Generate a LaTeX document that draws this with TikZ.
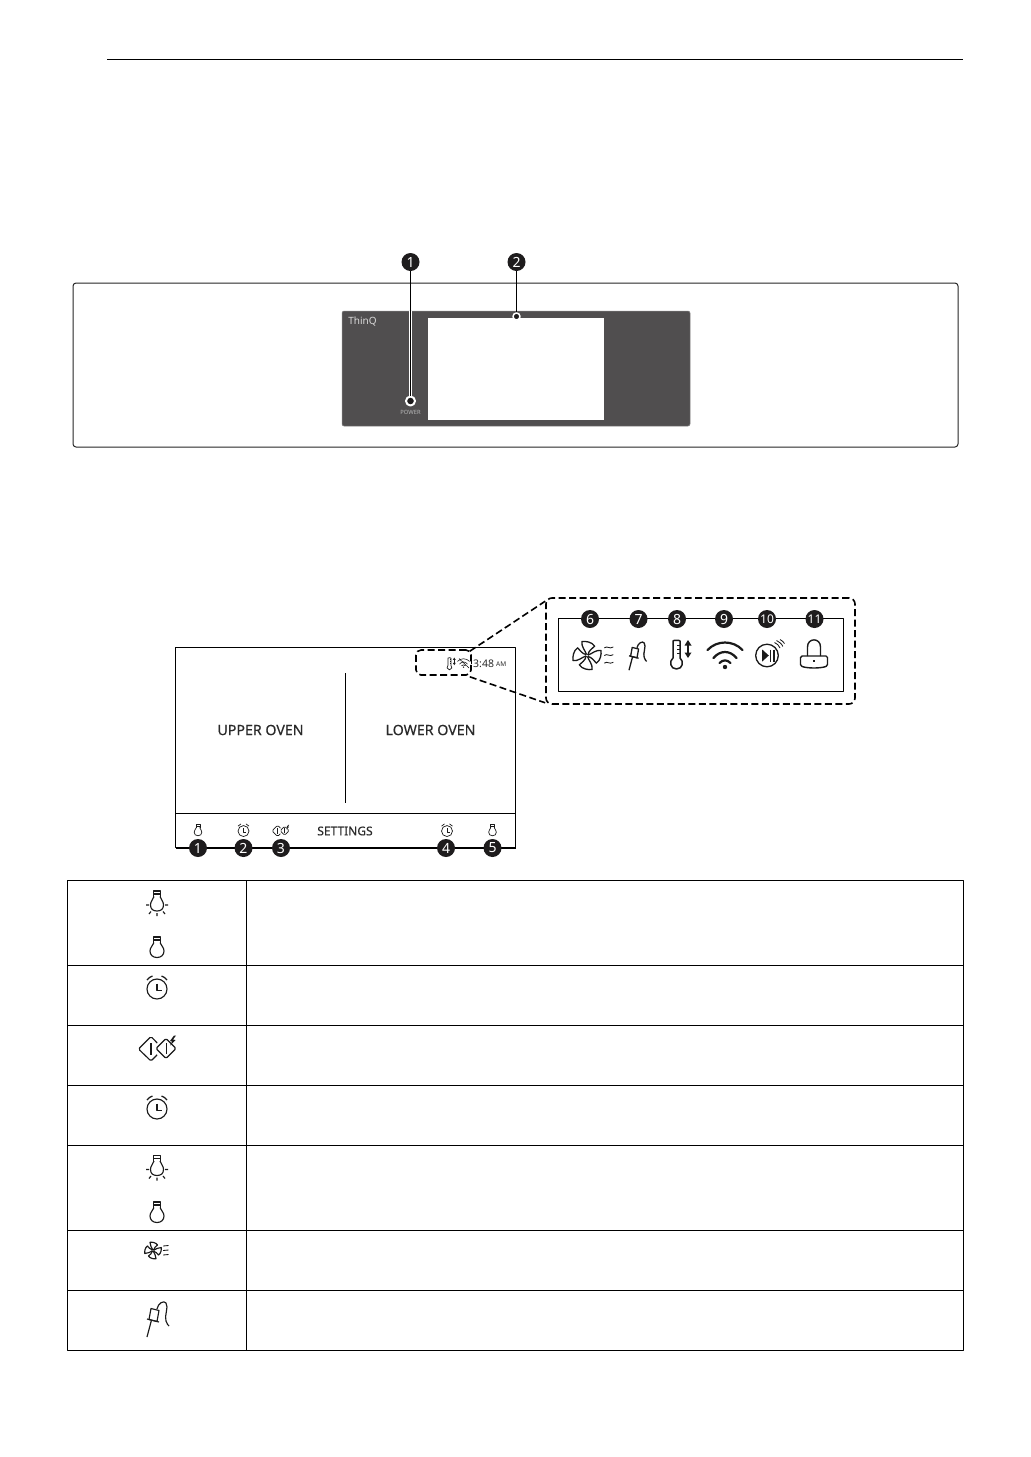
\documentclass[tikz,border=0pt]{standalone}
\usepackage{fontspec}
\setmainfont{Noto Sans}
\newfontfamily\labelfont[FakeBold=0.4]{Noto Sans}
\begin{document}
\begin{tikzpicture}[x=1pt,y=-1pt,line join=round,
  badge/.style={circle,fill=badgeblack,text=white,inner sep=0pt,minimum size=18pt,font=\fontsize{14}{14}\selectfont\bfseries},
  badgesm/.style={badge,font=\fontsize{12}{12}\selectfont\bfseries},
  label/.style={inner sep=0pt,text=textgray,font=\labelfont\fontsize{14.2}{15}\selectfont},
  dashbox/.style={draw=black,line width=1.6pt,dash pattern=on 7pt off 3.5pt},
  icon/.style={draw=iconblack,line width=1.15pt},
  wifiline/.style={line width=2.2pt},
  thermoline/.style={line width=1.5pt},
  bulb/.pic={
    \draw[icon] (-3.5,-4) -- (-3.5,-10) -- (3.5,-10) -- (3.5,-4);
    \draw[icon] (-3.5,-7) -- (3.5,-7);
    \draw[icon] (-3,-4.5) .. controls (-4,-1) and (-7,0) .. (-7,4) .. controls (-7,8) and (-4,10.5) .. (0,10.5) .. controls (4,10.5) and (7,8) .. (7,4) .. controls (7,0) and (4,-1) .. (3,-4.5);
  },
  bulblit/.pic={
    \draw[icon] (-3.5,-7) -- (-3.5,-13) -- (3.5,-13) -- (3.5,-7);
    \draw[icon] (-3.5,-10) -- (3.5,-10);
    \draw[icon] (-3,-7.5) .. controls (-4,-4) and (-6.5,-3) .. (-6.5,1) .. controls (-6.5,5) and (-4,7) .. (0,7) .. controls (4,7) and (6.5,5) .. (6.5,1) .. controls (6.5,-3) and (4,-4) .. (3,-7.5);
    \draw[icon] (-11,1) -- (-8,1) (8,1) -- (11,1) (0,9) -- (0,12) (-6,7.5) -- (-8,10) (6,7.5) -- (8,10);
  },
  clockicon/.pic={
    \draw[icon] (0,1) circle[radius=10pt];
    \draw[icon] (0,-4.5) -- (0,2.5) -- (5,2.5);
    \draw[icon] (-10,-8) .. controls (-8.5,-10) and (-6.5,-11.5) .. (-4.5,-12);
    \draw[icon] (10,-8) .. controls (8.5,-10) and (6.5,-11.5) .. (4.5,-12);
  },
  diamonds/.pic={
    \draw[icon,rounded corners=1.5pt] (-18.5,1) -- (-6,-11.5) -- (6,1) -- (-6,13) -- cycle;
    \draw[fill=white,draw=white] (3,-9) -- (-3,1) -- (3,11) -- (11,11) -- (14,-9) -- cycle;
    \draw[icon,rounded corners=1.5pt] (-1,0.5) -- (9,-9.5) -- (19,0.5) -- (9,10.5) -- cycle;
    \draw[icon,thermoline] (-6,-5) -- (-6,7);
    \draw[icon,line width=.7pt] (9,-5) -- (9,6);
    \fill[iconblack] (17,-12.5) -- (13,-7) -- (15,-6.5) -- (13,-2.5) -- (18.5,-8) -- (16,-8.5) -- (19,-12.5) -- cycle;
  },
  fanicon/.pic={
    \foreach \a in {0,90,180,270}{
      \draw[icon,rotate=\a] (-.3,-.6) .. controls (-1,-3) and (-3.4,-5) .. (-3,-8.2) .. controls (-1,-8.6) and (3,-8) .. (4.5,-5.5) .. controls (3,-4) and (1,-3) .. (.5,-.3);
    }
    \draw[icon,line width=.85pt] (10.2,-4.5) .. controls (12,-6) and (13,-3.5) .. (15.5,-5);
    \draw[icon,line width=.85pt] (10.2,0) .. controls (12,-1.5) and (13,1) .. (15.5,-.5);
    \draw[icon,line width=.85pt] (10.2,4.5) .. controls (12,3) and (13,5.5) .. (15.5,4);
  },
  probe/.pic={
    \draw[icon] (-10,19) -- (-5.5,2);
    \draw[icon] (-6,-9.5) -- (2,-7.5) -- (0,3.5) -- (-8,1.5) -- cycle;
    \draw[icon] (-10,1) -- (2,4);
    \draw[icon] (0,-9) .. controls (1,-15) and (7,-18) .. (9,-15) .. controls (12,-11) and (7,-2) .. (9,3) .. controls (10,6) and (11,7) .. (12,8);
  },
  thermo/.pic={
    \draw[icon,thermoline] (-6,4) -- (-6,-13) .. controls (-6,-14) and (1,-14) .. (1,-13) -- (1,4) .. controls (5,7) and (4,15) .. (-2.5,15) .. controls (-9,15) and (-10,7) .. (-6,4);
    \draw[icon,line width=.9pt] (1,-9) -- (-2,-9) (1,-5) -- (-2,-5) (1,-1) -- (-2,-1);
    \draw[icon,thermoline] (9,-10) -- (9,0);
    \fill[iconblack] (9,-14) -- (5.5,-8.5) -- (12.5,-8.5) -- cycle;
    \fill[iconblack] (9,4) -- (5.5,-1.5) -- (12.5,-1.5) -- cycle;
  },
  wifi/.pic={
    \draw[icon,wifiline,line cap=round] (-17.5,-5) .. controls (-8,-15) and (8,-15) .. (17.5,-5);
    \draw[icon,wifiline,line cap=round] (-11.5,3) .. controls (-5,-5) and (5,-5) .. (11.5,3);
    \draw[icon,wifiline,line cap=round] (-5.5,8) .. controls (-2,4.5) and (2,4.5) .. (5.5,8);
    \fill[iconblack] (0,12) circle[radius=2.2pt];
  },
  playicon/.pic={
    \draw[icon,line width=1.3pt] (0,0) circle[radius=11.3pt];
    \fill[iconblack] (-4.8,-6) -- (-4.8,6) -- (1.8,0) -- cycle;
    \draw[icon,line width=1.4pt] (3.6,-6) -- (3.6,6) (7,-6) -- (7,6);
    \draw[icon,line width=.85pt] (7.5,-13) .. controls (10,-12) and (12,-10) .. (13,-7.5);
    \draw[icon,line width=.85pt] (9.5,-15) .. controls (12,-14) and (15,-11.5) .. (15.8,-9);
    \draw[icon,line width=.85pt] (13,-16) .. controls (15,-15) and (16.5,-13.5) .. (17.5,-12);
  },
  lockicon/.pic={
    \draw[icon,line width=1.4pt] (-6.5,1) -- (-6.5,-8) .. controls (-6.5,-17.5) and (6.5,-17.5) .. (6.5,-8) -- (6.5,1);
    \draw[icon,line width=1.4pt,rounded corners=1.5pt] (-13.5,1) -- (13.5,1) -- (13.5,11) .. controls (6,13.5) and (-6,13.5) .. (-13.5,11) -- cycle;
    \fill[iconblack] (-.8,4.5) rectangle (.8,7);
  }
]
\definecolor{badgeblack}{HTML}{1E1C1D}
\definecolor{iconblack}{HTML}{1A1A1A}
\definecolor{textgray}{HTML}{2A2A2A}
\definecolor{paneldark}{HTML}{504E4F}
\useasboundingbox (0,0) rectangle (1031,1457);
\fill[white] (0,0) rectangle (1031,1457);

% header rule
\coordinate (ruleL) at (107,59.5);
\coordinate (ruleR) at (963,59.5);
\draw[line width=1pt] (ruleL) -- (ruleR);

% control panel
\node[draw=black!85,line width=1pt,rounded corners=3pt,minimum width=885pt,minimum height=164pt,inner sep=0pt] (frame) at (515.5,365) {};
\node[fill=paneldark,draw=paneldark!70!white,line width=.5pt,rounded corners=2pt,minimum width=348pt,minimum height=115pt,inner sep=0pt] (panel) at (516,368.5) {};
\node[fill=white,minimum width=176pt,minimum height=102pt,inner sep=0pt] (display) at (516,369) {};
\node[text=white!85!black,inner sep=0pt,font=\fontsize{10}{12}\selectfont] (thinq) at (362.5,322) {ThinQ};
\node[text=white!72!black,inner sep=0pt,font=\fontsize{5.8}{7}\selectfont] (powerlbl) at (410.5,412.5) {POWER};

\node[badge] (pb1) at (410.5,262) {1};
\node[badge] (pb2) at (516.5,262) {2};
\node[circle,fill=badgeblack,draw=white,line width=2pt,minimum size=9pt,inner sep=0pt] (pd1) at (410.5,401) {};
\node[circle,fill=badgeblack,draw=white,line width=1.5pt,minimum size=7pt,inner sep=0pt] (pd2) at (516.5,316.5) {};
\coordinate (haloTop) at (410.5,311);
\draw[white,line width=3pt] (haloTop) -- (pd1);
\draw[line width=1.2pt,black] (pb1) -- (pd1);
\draw[line width=1.2pt,black] (pb2) -- (pd2);

% screen
\node[draw=black,line width=1pt,minimum width=340pt,minimum height=200.5pt,inner sep=0pt] (screen) at (345.5,747.5) {};
\coordinate (barL) at (175.5,847.5);
\coordinate (barR) at (515.5,847.5);
\draw[line width=2pt,black] (barL) -- (barR);
\coordinate (sepL) at (175.5,813.5);
\coordinate (sepR) at (515.5,813.5);
\draw[line width=1pt] (sepL) -- (sepR);
\coordinate (divT) at (345.5,673);
\coordinate (divB) at (345.5,803);
\draw[line width=1pt] (divT) -- (divB);
\node[label] (upper) at (260.5,730) {UPPER OVEN};
\node[label] (lower) at (430.5,730) {LOWER OVEN};
\node[label,font=\labelfont\fontsize{12}{14}\selectfont] (settings) at (345,831) {SETTINGS};

\pic[scale=.55,icon/.append style={line width=.7pt}] at (198,830) {bulb};
\pic[scale=.55,icon/.append style={line width=.7pt}] at (243.5,830.5) {clockicon};
\pic[scale=.46,icon/.append style={line width=.7pt},thermoline/.style={line width=.9pt}] at (280.5,830.5) {diamonds};
\pic[scale=.55,icon/.append style={line width=.7pt}] at (447,830.5) {clockicon};
\pic[scale=.55,icon/.append style={line width=.7pt}] at (492.5,830) {bulb};

\node[badge] (s1) at (198,848) {1};
\node[badge] (s2) at (243.5,848) {2};
\node[badge] (s3) at (281,848) {3};
\node[badge] (s4) at (446,848) {4};
\node[badge] (s5) at (492.5,848) {5};

% status area
\pic[scale=.42,thermoline/.style={line width=.7pt},icon/.append style={line width=.6pt}] at (450.5,663.5) {thermo};
\pic[scale=.34,wifiline/.style={line width=.6pt}] at (463.5,663) {wifi};
\coordinate (slashA) at (459,658.5);
\coordinate (slashB) at (469,668);
\draw[line width=.5pt] (slashA) -- (slashB);
\fill[black] (470.5,659) rectangle (472,664);
\node[inner sep=0pt,anchor=west,text=textgray,font=\fontsize{10.5}{12}\selectfont] (time) at (473,664) {3:48};
\node[inner sep=0pt,anchor=west,text=textgray,font=\fontsize{6.5}{8}\selectfont] (ampm) at (496,664.5) {AM};

\node[dashbox,rounded corners=5pt,minimum width=55pt,minimum height=25pt,inner sep=0pt] (zoomsrc) at (443.5,662.5) {};
\node[dashbox,rounded corners=6pt,minimum width=309pt,minimum height=106pt,inner sep=0pt] (zoombox) at (700.5,651) {};
\draw[dashbox] ([shift={(-2,2)}]zoomsrc.north east) -- ([shift={(0,4)}]zoombox.north west);
\draw[dashbox] ([shift={(-2,1)}]zoomsrc.south east) -- ([shift={(0,-2)}]zoombox.south west);
\node[draw=black,line width=1pt,minimum width=285pt,minimum height=73pt,inner sep=0pt] (inner) at (700.5,655) {};

\node[badge] (c6) at (590,619) {6};
\node[badge] (c7) at (638.5,619) {7};
\node[badge] (c8) at (677,619) {8};
\node[badge] (c9) at (724,619) {9};
\node[badgesm] (c10) at (767,619) {10};
\node[badgesm] (c11) at (814.5,619) {11};

\pic[scale=1.7,icon/.append style={line width=1.3pt}] at (587,655.5) {fanicon};
\pic[scale=.8,icon/.append style={line width=1.3pt}] at (637,655) {probe};
\pic at (679,654) {thermo};
\pic at (725,655) {wifi};
\pic at (767,655.5) {playicon};
\pic at (814,655) {lockicon};

% table
\node[draw=black,line width=1pt,minimum width=896pt,minimum height=470pt,inner sep=0pt] (tbl) at (515,1115) {};
\foreach \yy/\n in {965.5/a,1025.5/b,1085.5/c,1145.5/d,1230.5/e,1290.5/f}{
  \coordinate (rowL\n) at (67,\yy);
  \coordinate (rowR\n) at (963,\yy);
  \draw[line width=1pt] (rowL\n) -- (rowR\n);
}
\coordinate (colT) at (246.5,880);
\coordinate (colB) at (246.5,1350);
\draw[line width=1pt] (colT) -- (colB);

\pic at (157,904) {bulblit};
\pic at (157,947) {bulb};
\pic at (157,988) {clockicon};
\pic at (157,1048) {diamonds};
\pic at (157,1108) {clockicon};
\pic at (157,1168.5) {bulblit};
\pic at (157,1212) {bulb};
\pic at (153,1250.5) {fanicon};
\pic at (157,1318) {probe};
\end{tikzpicture}
\end{document}
